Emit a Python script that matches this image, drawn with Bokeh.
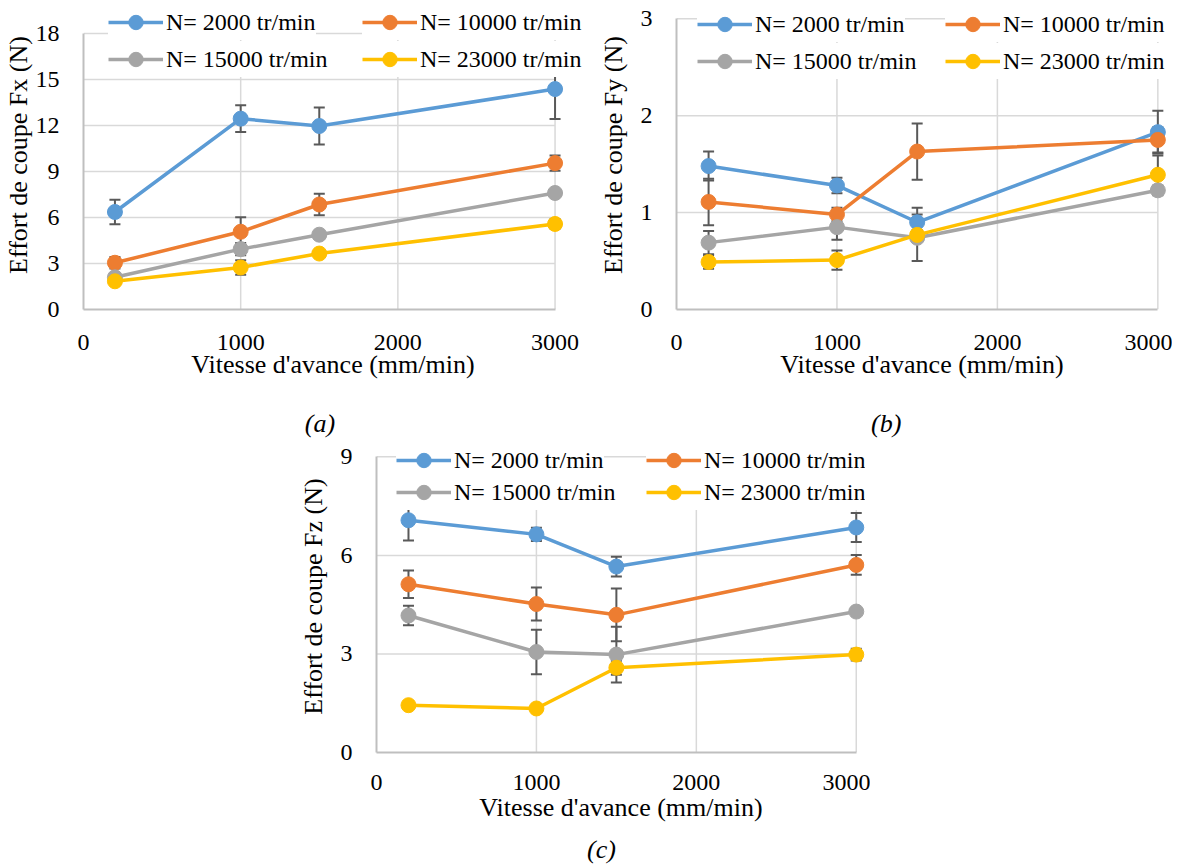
from bokeh.plotting import figure
from bokeh.models import (ColumnDataSource, Whisker, TeeHead, Legend, LegendItem,
                          Range1d, FixedTicker, LinearAxis, Spacer)
from bokeh.layouts import row, column
from bokeh.embed import file_html
from bokeh.resources import INLINE

# ---------------- data ----------------
feed = [200, 1000, 1500, 3000]                     # Vitesse d'avance (mm/min)
x_ticks = [0, 1000, 2000, 3000]
speed_labels = ["N= 2000 tr/min", "N= 10000 tr/min", "N= 15000 tr/min", "N= 23000 tr/min"]

# Fx (N)
fx_2000 = [6.36, 12.45, 11.97, 14.38]
fx_2000_err = [0.80, 0.87, 1.20, 1.95]
fx_10000 = [3.05, 5.07, 6.85, 9.55]
fx_10000_err = [0.38, 0.95, 0.70, 0.50]
fx_15000 = [2.10, 3.94, 4.88, 7.60]
fx_15000_err = [0.20, 0.40, 0.25, 0.20]
fx_23000 = [1.84, 2.74, 3.65, 5.58]
fx_23000_err = [0.15, 0.48, 0.15, 0.30]
fx_ticks = [0, 3, 6, 9, 12, 15, 18]

# Fy (N)
fy_2000 = [1.48, 1.28, 0.90, 1.83]
fy_2000_err = [0.15, 0.08, 0.15, 0.22]
fy_10000 = [1.11, 0.98, 1.63, 1.75]
fy_10000_err = [0.24, 0.07, 0.29, 0.13]
fy_15000 = [0.69, 0.85, 0.74, 1.23]
fy_15000_err = [0.12, 0.13, 0.24, 0.05]
fy_23000 = [0.49, 0.51, 0.77, 1.39]
fy_23000_err = [0.07, 0.10, 0.05, 0.20]
fy_ticks = [0, 1, 2, 3]

# Fz (N)
fz_2000 = [7.07, 6.64, 5.66, 6.85]
fz_2000_err = [0.62, 0.20, 0.30, 0.44]
fz_10000 = [5.12, 4.52, 4.19, 5.71]
fz_10000_err = [0.42, 0.50, 0.80, 0.30]
fz_15000 = [4.17, 3.06, 2.98, 4.29]
fz_15000_err = [0.30, 0.68, 0.85, 0.05]
fz_23000 = [1.44, 1.34, 2.58, 2.98]
fz_23000_err = [0.03, 0.03, 0.21, 0.18]
fz_ticks = [0, 3, 6, 9]

# ---------------- style ----------------
COLORS = ["#5B9BD5", "#ED7D31", "#A5A5A5", "#FFC000"]
FONT = "Liberation Serif"
GRID = "#D9D9D9"
AXIS = "#BFBFBF"
ERR = "#595959"
NBSP = "\u00a0"


def panel(series, y_ticks, y_title, tag, g):
    fw = g["w"] - g["bl"] - g["br"]              # frame width (px)
    fh = g["h"] - g["bb"]                        # frame height (px), frame starts at canvas top
    x_end = x_ticks[-1] * fw / g["span_x"]       # span_x: pixels from 0 to last x tick
    y_end = y_ticks[-1] * fh / g["span_y"]       # span_y: pixels from 0 to last y tick
    p = figure(width=g["w"], height=g["h"],
               x_range=Range1d(x_ticks[0], x_end), y_range=Range1d(y_ticks[0], y_end),
               output_backend="svg", toolbar_location=None,
               min_border_left=g["bl"], min_border_right=g["br"],
               min_border_top=0, min_border_bottom=g["bb"])
    p.outline_line_color = None
    p.background_fill_color = "white"
    p.border_fill_color = "white"

    # grid (limited to the axes' extent)
    p.xgrid.visible = False
    p.ygrid.visible = False
    gy = y_ticks[1:]
    p.segment(x0=[x_ticks[0]] * len(gy), x1=[x_ticks[-1]] * len(gy), y0=gy, y1=gy,
              line_color=GRID, line_width=1.5, level="underlay")
    gx = x_ticks[1:]
    p.segment(x0=gx, x1=gx, y0=[y_ticks[0]] * len(gx), y1=[y_ticks[-1]] * len(gx),
              line_color=GRID, line_width=1.5, level="underlay")

    # axes
    for ax in (p.xaxis[0], p.yaxis[0]):
        ax.axis_line_color = AXIS
        ax.axis_line_width = 2
        ax.major_tick_line_color = None
        ax.minor_tick_line_color = None
        ax.major_label_text_font = FONT
        ax.major_label_text_font_size = "24px"
        ax.major_label_text_color = "black"
        ax.axis_label_text_font = FONT
        ax.axis_label_text_font_size = "26px"
        ax.axis_label_text_font_style = "normal"
        ax.axis_label_text_color = "black"
    p.xaxis.ticker = FixedTicker(ticks=x_ticks)
    p.xaxis.bounds = (x_ticks[0], x_ticks[-1])
    p.yaxis.ticker = FixedTicker(ticks=y_ticks)
    p.yaxis.bounds = (y_ticks[0], y_ticks[-1])
    p.xaxis.axis_label = "Vitesse d'avance (mm/min)"
    p.yaxis.axis_label = y_title
    p.xaxis.major_label_standoff = g["xs"]
    p.xaxis.axis_label_standoff = g["xls"]
    p.yaxis.major_label_standoff = 18
    p.yaxis.axis_label_standoff = g["ys"]

    # sub-figure tag "(a)", "(b)", "(c)" as the label of a bare axis below;
    # trailing no-break spaces shift the centred label to the left
    tag_axis = LinearAxis(ticker=FixedTicker(ticks=[]),
                          axis_line_color=None, major_tick_line_color=None,
                          minor_tick_line_color=None, major_tick_out=0, minor_tick_out=0,
                          major_label_standoff=0, axis_label=tag + NBSP * g["tpad"],
                          axis_label_standoff=g["ts"],
                          axis_label_text_font=FONT, axis_label_text_font_style="italic",
                          axis_label_text_font_size="26px", axis_label_text_color="black")
    p.add_layout(tag_axis, "below")

    items = []
    for (label, color, vals, errs) in series:
        src = ColumnDataSource(dict(x=feed, y=vals,
                                    up=[v + e for v, e in zip(vals, errs)],
                                    lo=[v - e for v, e in zip(vals, errs)]))
        wk = Whisker(base="x", upper="up", lower="lo", source=src, dimension="height",
                     line_color=ERR, line_width=2,
                     upper_head=TeeHead(size=11, line_color=ERR, line_width=2),
                     lower_head=TeeHead(size=11, line_color=ERR, line_width=2))
        p.add_layout(wk)
        lr = p.line("x", "y", source=src, line_color=color, line_width=3.5)
        sr = p.scatter("x", "y", source=src, size=15, fill_color=color, line_color=color)
        items.append(LegendItem(label=label, renderers=[lr, sr]))

    # legend laid out as 2 rows x 2 columns (one box per entry)
    slots = [(g["lx1"], g["ly1"]), (g["lx2"], g["ly1"]), (g["lx1"], g["ly2"]), (g["lx2"], g["ly2"])]
    for it, (lx, ly) in zip(items, slots):
        leg = Legend(items=[it], location=(lx, ly), orientation="vertical",
                     label_text_font=FONT, label_text_font_size="24px", label_text_color="black",
                     glyph_width=55, glyph_height=36, label_standoff=3, padding=0,
                     spacing=0, margin=0, border_line_color=None,
                     background_fill_color="white", background_fill_alpha=1.0)
        p.add_layout(leg)
    return p


def series_of(a, ae, b, be, c, ce, d, de):
    return [(speed_labels[0], COLORS[0], a, ae), (speed_labels[1], COLORS[1], b, be),
            (speed_labels[2], COLORS[2], c, ce), (speed_labels[3], COLORS[3], d, de)]


pa = panel(series_of(fx_2000, fx_2000_err, fx_10000, fx_10000_err,
                     fx_15000, fx_15000_err, fx_23000, fx_23000_err),
           fx_ticks, "Effort de coupe Fx (N)", "(a)",
           dict(w=595, h=440, bl=73, br=13, bb=127, span_x=481, span_y=279.5,
                xs=19, xls=-3, ys=0,
                lx1=25, lx2=279, ly1=269, ly2=232, tpad=4, ts=27))
pb = panel(series_of(fy_2000, fy_2000_err, fy_10000, fy_10000_err,
                     fy_15000, fy_15000_err, fy_23000, fy_23000_err),
           fy_ticks, "Effort de coupe Fy (N)", "(b)",
           dict(w=577, h=440, bl=74, br=5, bb=127, span_x=488.2, span_y=294.5,
                xs=19, xls=-3, ys=10,
                lx1=21, lx2=269, ly1=267, ly2=230, tpad=11, ts=27))
pc = panel(series_of(fz_2000, fz_2000_err, fz_10000, fz_10000_err,
                     fz_15000, fz_15000_err, fz_23000, fz_23000_err),
           fz_ticks, "Effort de coupe Fz (N)", "(c)",
           dict(w=575, h=426, bl=73, br=5, bb=111, span_x=487.6, span_y=298.5,
                xs=16, xls=0, ys=10,
                lx1=20, lx2=270, ly1=274, ly2=242, tpad=6, ts=10))

layout = column(row(pa, pb), row(Spacer(width=295, height=426), pc))

open("out.html", "w").write(file_html(layout, INLINE))
